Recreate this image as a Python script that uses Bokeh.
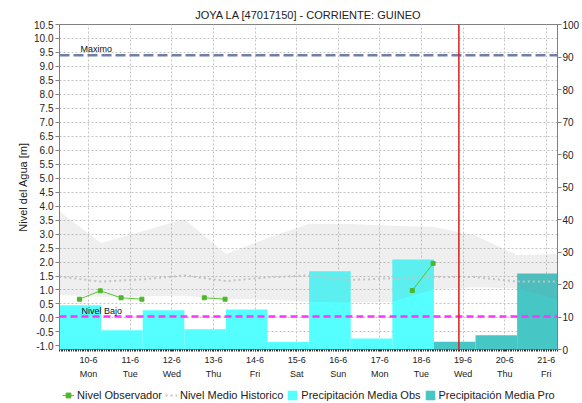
import numpy as np
from bokeh.plotting import figure
from bokeh.layouts import column
from bokeh.models import (Range1d, LinearAxis, FixedTicker, Span, Label, Legend,
                          LegendItem, PrintfTickFormatter)
from bokeh.embed import file_html
from bokeh.resources import INLINE

# ---------------- data ----------------
day_labels = ["10-6", "11-6", "12-6", "13-6", "14-6", "15-6",
              "16-6", "17-6", "18-6", "19-6", "20-6", "21-6"]
weekday_labels = ["Mon", "Tue", "Wed", "Thu", "Fri", "Sat",
                  "Sun", "Mon", "Tue", "Wed", "Thu", "Fri"]

# daily precipitation [mm] (right axis)
precip_obs_days = [0, 1, 2, 3, 4, 5, 6, 7, 8]
precip_obs = [13.6, 5.9, 12.1, 6.2, 12.3, 2.3, 24.1, 3.4, 27.7]
precip_pro_days = [9, 10, 11]
precip_pro = [2.4, 4.4, 23.4]

# observed water level [m] (time in days, relative to 10-6 label), NaN = gap
obs_time = [-0.22, 0.28, 0.78, 1.28, 2.0, 2.78, 3.28, 5.0, 7.78, 8.28]
obs_level = [0.67, 0.97, 0.72, 0.67, np.nan, 0.72, 0.67, np.nan, 0.98, 1.95]

# historical level: range (min / max) and mean
hist_time = [-0.7, 0.3, 1.3, 2.3, 3.3, 4.3, 5.3, 6.3, 7.3, 8.3, 9.3, 10.3, 11.27]
hist_low = [0.82, 0.76, 0.78, 0.79, 0.68, 0.65, 0.58, 0.55, 0.58, 1.03, 1.10, 1.05, 0.68]
hist_high = [3.81, 2.68, 3.10, 3.54, 2.29, 2.85, 3.37, 3.36, 3.30, 3.25, 2.95, 2.25, 2.29]
hist_mean = [1.48, 1.30, 1.38, 1.52, 1.32, 1.45, 1.52, 1.36, 1.42, 1.47, 1.46, 1.30, 1.30]

nivel_maximo = 9.4
nivel_bajo = 0.05
now_time = 8.9

left_ticks = [round(-1.0 + 0.5 * i, 1) for i in range(24)]
right_ticks = [0, 10, 20, 30, 40, 50, 60, 70, 80, 90, 100]

# ---------------- styles ----------------
FONT = "Liberation Sans"
BAR_START = -0.7   # a day's bar starts 0.7 day before its label
X_MIN, X_MAX = -0.7, 11.27
C_OBS_LINE = "#5CC232"
C_OBS_PT = "#4CB828"
C_MEAN = "#C2C2C2"
C_BAR_OBS = "#55FFFF"
C_BAR_PRO = "#47C6C6"

p = figure(width=582, height=382, output_backend="svg", toolbar_location=None,
           x_range=Range1d(X_MIN, X_MAX), y_range=Range1d(-1.13, 10.5),
           min_border_left=59, min_border_right=24, min_border_top=24,
           min_border_bottom=32,
           title="JOYA LA [47017150] - CORRIENTE: GUINEO")
p.extra_y_ranges = {"pp": Range1d(0, 100)}
p.background_fill_color = "white"
p.border_fill_color = "white"
p.outline_line_color = "#808080"

p.title.align = "center"
p.title.text_font = FONT
p.title.text_font_size = "11px"
p.title.text_font_style = "normal"
p.title.text_color = "#222222"
p.title.standoff = 7

# x axis
hours = list(np.arange(X_MIN, X_MAX, 1.0 / 24.0))
xax = p.xaxis[0]
xax.ticker = FixedTicker(ticks=list(range(len(day_labels))), minor_ticks=hours)
xax.major_label_overrides = {i: f"{d}\n{w}" for i, (d, w) in
                             enumerate(zip(day_labels, weekday_labels))}
xax.major_label_text_font = FONT
xax.major_label_text_font_size = "9px"
xax.major_label_text_line_height = 1.45
xax.major_label_text_color = "#222222"
xax.major_label_standoff = 3
xax.axis_line_color = "#808080"
xax.major_tick_out = 2
xax.major_tick_in = 0
xax.minor_tick_out = 2
xax.minor_tick_in = 0
xax.major_tick_line_color = "#333333"
xax.minor_tick_line_color = "#333333"

# left axis
yax = p.yaxis[0]
yax.ticker = FixedTicker(ticks=left_ticks)
yax.formatter = PrintfTickFormatter(format="%.1f")
yax.axis_label = "Nivel del Agua [m]"
yax.axis_label_text_font = FONT
yax.axis_label_text_font_size = "11px"
yax.axis_label_text_font_style = "normal"
yax.axis_label_text_color = "#222222"
yax.axis_label_standoff = 2
yax.major_label_text_font = FONT
yax.major_label_text_font_size = "10px"
yax.major_label_text_color = "#222222"
yax.major_label_standoff = 2
yax.axis_line_color = "#808080"
yax.major_tick_out = 4
yax.major_tick_in = 0
yax.major_tick_line_color = "#808080"
yax.minor_tick_line_color = None

# right axis
rax = LinearAxis(y_range_name="pp", ticker=FixedTicker(ticks=right_ticks))
rax.major_label_text_font = FONT
rax.major_label_text_font_size = "10px"
rax.major_label_text_color = "#222222"
rax.major_label_standoff = 1
rax.axis_line_color = "#808080"
rax.major_tick_out = 4
rax.major_tick_in = 0
rax.major_tick_line_color = "#808080"
rax.minor_tick_line_color = None
p.add_layout(rax, "right")

# grids
for g in (p.xgrid[0], p.ygrid[0]):
    g.grid_line_color = "#C4C4C4"
    g.grid_line_dash = "2 2"
    g.grid_line_width = 1

# precipitation bars
obs_left = [d + BAR_START for d in precip_obs_days]
obs_right = [d + BAR_START + 1 for d in precip_obs_days]
p.quad(left=obs_left, right=obs_right, bottom=0, top=precip_obs,
       y_range_name="pp", fill_color=C_BAR_OBS, line_color=None)
pro_left = [d + BAR_START for d in precip_pro_days]
pro_right = [d + BAR_START + 1 for d in precip_pro_days]
p.quad(left=pro_left, right=pro_right, bottom=0, top=precip_pro,
       y_range_name="pp", fill_color=C_BAR_PRO, line_color=None)

# historical band and mean
p.varea(x=hist_time, y1=hist_low, y2=hist_high, fill_color="#808080", fill_alpha=0.13)
p.line(hist_time, hist_mean, line_color=C_MEAN, line_width=2, line_dash="2 3")

# observed level
p.line(obs_time, obs_level, line_color=C_OBS_LINE, line_width=1)
p.scatter(obs_time, obs_level, marker="square", size=4,
          fill_color=C_OBS_PT, line_color=C_OBS_PT)

# reference lines
p.add_layout(Span(location=nivel_maximo, dimension="width", line_color="#6F7FAA",
                  line_width=2.5, line_dash="10 4"))
p.add_layout(Span(location=nivel_bajo, dimension="width", line_color="#FF33FF",
                  line_width=2.5, line_dash="7 4"))
p.add_layout(Span(location=now_time, dimension="height", line_color="#E01818",
                  line_width=1.5))
p.add_layout(Label(x=X_MIN, y=nivel_maximo, x_offset=21, y_offset=1, text="Maximo",
                   text_font=FONT, text_font_size="9px", text_color="#111111",
                   text_baseline="bottom"))
p.add_layout(Label(x=X_MIN, y=nivel_bajo, x_offset=22, y_offset=1, text="Nivel Bajo",
                   text_font=FONT, text_font_size="9px", text_color="#111111",
                   text_baseline="bottom"))

# ---------------- legend strip ----------------
# (legend-only renderers hold a single point placed outside the visible range)
pl = figure(width=582, height=21, output_backend="svg", toolbar_location=None,
            x_range=Range1d(0, 1), y_range=Range1d(0, 1),
            x_axis_location=None, y_axis_location=None,
            min_border_left=0, min_border_right=0, min_border_top=0,
            min_border_bottom=0)
pl.grid.visible = False
pl.outline_line_color = None
pl.background_fill_color = "white"
pl.border_fill_color = "white"
off = [5.0]
l1 = pl.line(off, off, line_color=C_OBS_LINE, line_width=1)
l1p = pl.scatter(off, off, marker="square", size=4, fill_color=C_OBS_PT,
                 line_color=C_OBS_PT)
l2 = pl.line(off, off, line_color=C_MEAN, line_width=2, line_dash="2 3")
l3 = pl.quad(left=off, right=off, top=off, bottom=off, fill_color=C_BAR_OBS,
             line_color=None)
l4 = pl.quad(left=off, right=off, top=off, bottom=off, fill_color=C_BAR_PRO,
             line_color=None)

legend = Legend(items=[
    LegendItem(label="Nivel Observador", renderers=[l1, l1p]),
    LegendItem(label="Nivel Medio Historico", renderers=[l2]),
    LegendItem(label="Precipitación Media Obs", renderers=[l3]),
    LegendItem(label="Precipitación Media Pro", renderers=[l4]),
], orientation="horizontal", location=(3, 2))
legend.label_text_font = FONT
legend.label_text_font_size = "11px"
legend.label_text_color = "#222222"
legend.glyph_width = 12
legend.glyph_height = 12
legend.label_height = 12
legend.label_standoff = 3
legend.spacing = 3
legend.padding = 0
legend.margin = 0
legend.border_line_color = None
legend.background_fill_alpha = 0
pl.add_layout(legend, "center")

layout = column(p, pl, spacing=0)
open("out.html", "w").write(file_html(layout, INLINE))
